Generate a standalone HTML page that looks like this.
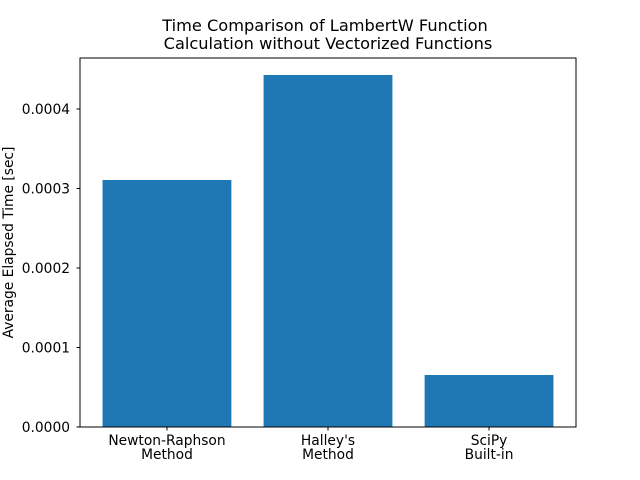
<!DOCTYPE html>
<html><head><meta charset="utf-8"><style>
body{margin:0;background:#fff;}
svg{display:block;font-family:"DejaVu Sans","Liberation Sans",sans-serif;}
</style></head><body>
<svg id="chart" width="640" height="480" viewBox="0 0 640 480">
<rect width="640" height="480" fill="#fff"/>
<text x="325" y="31" text-anchor="middle" font-size="16.2">Time Comparison of LambertW Function</text>
<text x="328" y="49" text-anchor="middle" font-size="16.2">Calculation without Vectorized Functions</text>
<g id="bars"></g>
<g id="yticks"></g>
<g id="xticks"></g>
<rect x="80" y="58" width="496" height="369" fill="none" stroke="#000" stroke-width="1"/>
<text transform="translate(13,242.5) rotate(-90)" text-anchor="middle" font-size="13.8">Average Elapsed Time [sec]</text>
</svg>
<script>
const categories = [["Newton-Raphson","Method"],["Halley's","Method"],["SciPy","Built-in"]];
const values = [0.0003107, 0.0004428, 0.0000654];
const yTicks = [0, 0.0001, 0.0002, 0.0003, 0.0004];
const yTickLabels = ["0.0000","0.0001","0.0002","0.0003","0.0004"];

const NS="http://www.w3.org/2000/svg";
const L=80,R=576,T=58,B=427;
const xmin=-0.54,xmax=categories.length-1+0.54;
const yTop=(B-T)/((B-109)/0.0004);
const xs=v=>L+(v-xmin)/(xmax-xmin)*(R-L);
const ys=v=>B-v/yTop*(B-T);
function el(tag,attrs,parent){const e=document.createElementNS(NS,tag);for(const k in attrs)e.setAttribute(k,attrs[k]);parent.appendChild(e);return e;}
const gb=document.getElementById('bars'),gy=document.getElementById('yticks'),gx=document.getElementById('xticks');
const bw=(xs(0.8)-xs(0));
values.forEach((v,i)=>{
  const r=el('rect',{x:xs(i)-bw/2,y:ys(v),width:bw,height:B-ys(v),fill:'#1f77b4'},gb);
  
  
  const t=el('line',{x1:xs(i),x2:xs(i),y1:B,y2:B+3.5,stroke:'#000'},gx);
  
  
  categories[i].forEach((s,j)=>{
    const tx=el('text',{x:xs(i),y:B+18+j*14,'text-anchor':'middle','font-size':'13.8'},gx);
    tx.textContent=s;
    
    
  });
});
yTicks.forEach((v,i)=>{
  const y=ys(v);
  const t=el('line',{x1:L-3.5,x2:L,y1:y,y2:y,stroke:'#000'},gy);
  
  
  const tx=el('text',{x:L-10,y:y+5,'text-anchor':'end','font-size':'13.8'},gy);
  tx.textContent=yTickLabels[i];
  
  
});
</script>
</body></html>
